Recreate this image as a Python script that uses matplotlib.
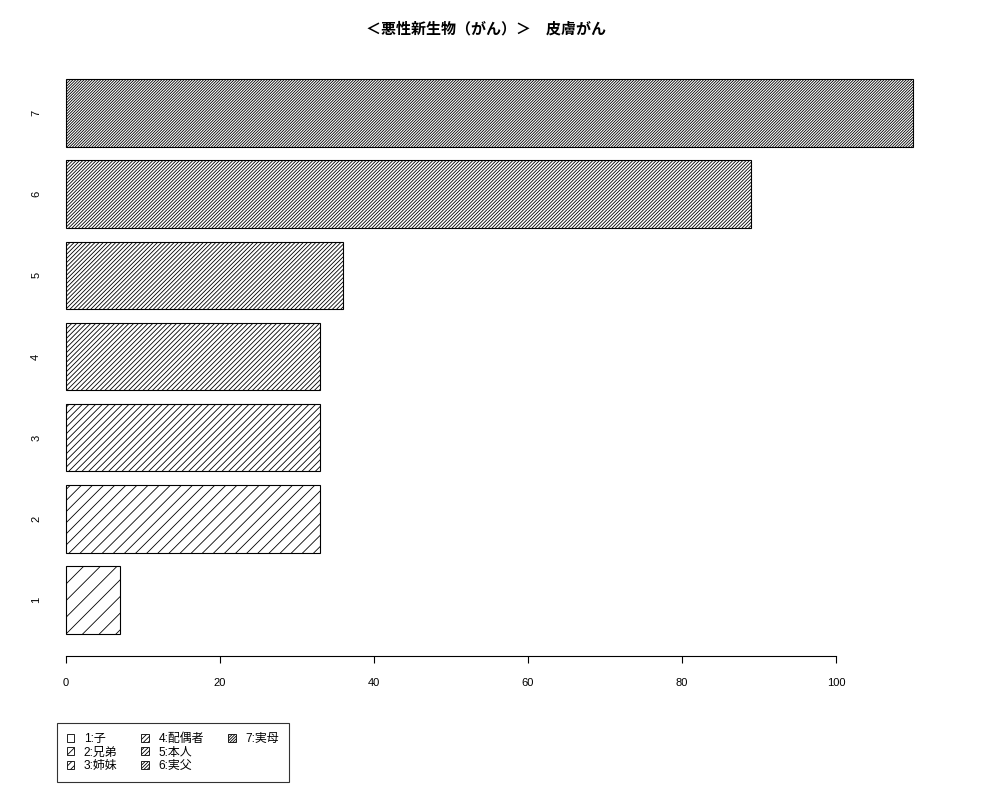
import matplotlib
matplotlib.use('Agg')
import matplotlib.pyplot as plt
from matplotlib.patches import Patch

plt.rcParams['font.family'] = ['Liberation Sans', 'Noto Sans CJK JP', 'DejaVu Sans']
plt.rcParams['hatch.linewidth'] = 0.6

### data
title = '＜悪性新生物（がん）＞　皮膚がん'
bar_names = ['1', '2', '3', '4', '5', '6', '7']
values = [7, 33, 33, 33, 36, 89, 110]
legend_labels = ['1:子', '2:兄弟', '3:姉妹', '4:配偶者', '5:本人', '6:実父', '7:実母']
x_ticks = [0, 20, 40, 60, 80, 100]

# hatch density grows with the bar number (like R's density=)
hatch_counts = [2, 3, 5, 7, 8, 10, 12]
hatches = ['/' * n for n in hatch_counts]

### layout like R barplot(horiz=TRUE): width 1, space 0.2
ypos = [0.7 + 1.2 * i for i in range(len(values))]
ylo, yhi = 0.2, ypos[-1] + 0.5
xhi = max(values)

fig = plt.figure(figsize=(10, 8), dpi=100)
ax = fig.add_axes([0.032, 1 - 656 / 800, 0.915, (656 - 57) / 800])

for y, v, h in zip(ypos, values, hatches):
    ax.barh(y, v, height=1.0, left=0, color='white', edgecolor='black',
            linewidth=0.8, hatch=h)

ax.set_xlim(-0.04 * xhi, 1.04 * xhi)
pad_y = 0.04 * (yhi - ylo)
ax.set_ylim(ylo - pad_y, yhi + pad_y)

for s in ['top', 'right', 'left']:
    ax.spines[s].set_visible(False)
ax.spines['bottom'].set_bounds(x_ticks[0], x_ticks[-1])
ax.spines['bottom'].set_linewidth(0.8)

ax.set_xticks(x_ticks)
ax.set_xticklabels([str(t) for t in x_ticks], fontsize=8)
ax.tick_params(axis='x', length=5, width=0.8, pad=11)

ax.set_yticks(ypos)
ax.set_yticklabels(bar_names, fontsize=8, rotation=90, ha='center', va='center')
ax.tick_params(axis='y', length=0, pad=-3)

fig.text(0.4865, 1 - 29 / 800, title, ha='center', va='center',
         fontsize=10.8, fontweight='bold')

# legend: 3 rows filled column by column, blank slots pad the last column
handles = [Patch(facecolor='white', edgecolor='black', linewidth=0.6, hatch=h)
           for h in hatches]
labels = list(legend_labels)
while len(handles) % 3:
    handles.append(Patch(facecolor='none', edgecolor='none'))
    labels.append('')
leg = fig.legend(handles, labels, ncol=3, loc='lower left',
                 bbox_to_anchor=(0.057, 1 - 782 / 800), fontsize=8.6,
                 frameon=True, fancybox=False, edgecolor='black',
                 handlelength=0.65, handleheight=0.65, handletextpad=0.8,
                 labelspacing=0.15, columnspacing=2.0, borderpad=0.8,
                 borderaxespad=0)
leg.get_frame().set_linewidth(0.8)

fig.savefig('out.png', dpi=100)
